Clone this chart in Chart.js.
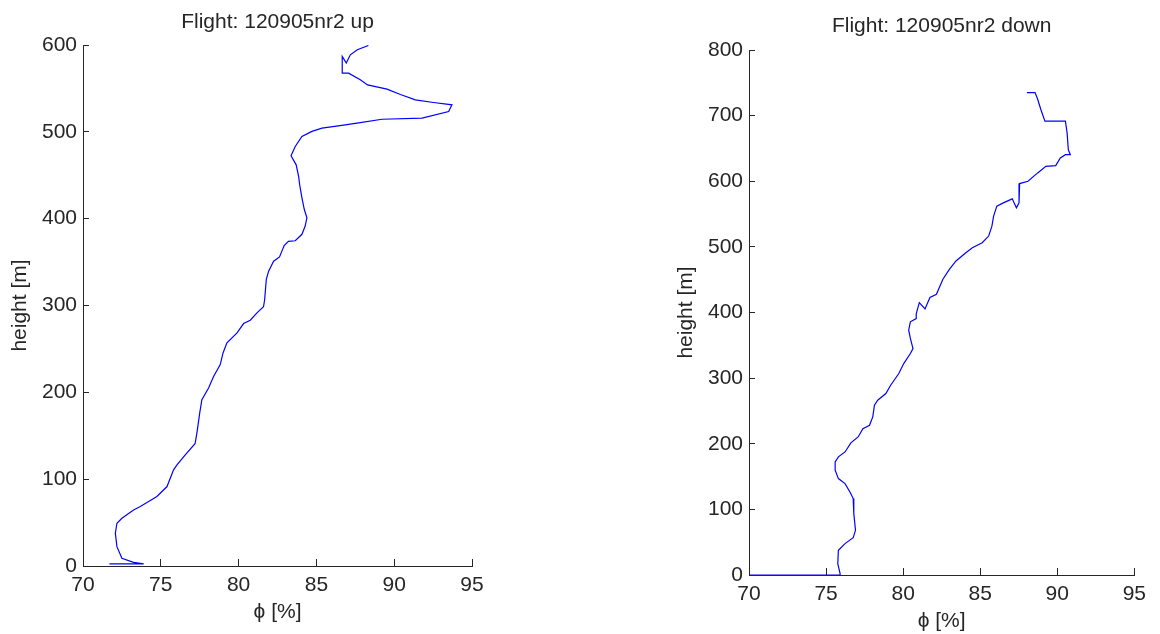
<!DOCTYPE html>
<html>
<head>
<meta charset="utf-8">
<title>Flight 120905nr2</title>
<script src="https://cdn.jsdelivr.net/npm/chart.js@4.4.1/dist/chart.umd.min.js"></script>
<style>
  html, body { margin: 0; padding: 0; background: #fff; overflow: hidden; }
  .box { position: absolute; top: 0; height: 634px; }
  #upBox { left: 0; width: 520px; }
  #downBox { left: 660px; width: 500px; }
</style>
</head>
<body>
<div class="box" id="upBox"><canvas id="upChart"></canvas></div>
<div class="box" id="downBox"><canvas id="downChart"></canvas></div>
<script>
// Ascent profile (relative humidity phi [%] vs height [m])
const upPhi = [71.7, 73.9, 73.25, 72.5, 72.18, 72.08, 72.18, 72.5, 73.25, 73.68,
  74.22, 74.75, 75.4, 75.82, 76.04, 76.57, 77.2, 77.32, 77.5, 77.64,
  78.07, 78.4, 78.82, 79.0, 79.25, 79.9, 80.32, 80.75, 81.18, 81.6,
  81.67, 81.78, 81.93, 82.25, 82.63, 82.93, 83.2, 83.64, 84.07, 84.28,
  84.39, 84.22, 84.07, 83.92, 83.86, 83.7, 83.37, 83.64, 84.07, 84.71,
  85.36, 86.75, 87.82, 89.21, 91.79, 93.5, 93.71, 92.53, 91.36, 90.4,
  89.54, 88.29, 87.82, 87.07, 86.66, 86.66, 86.92, 87.18, 87.63, 88.34];
const upHeight = [2.5, 2.5, 4.2, 8.8, 22.3, 37.7, 49.2, 55, 64.6, 68.5,
  74.2, 80, 91.5, 110.8, 116.5, 128, 140.8, 153, 176, 191.5,
  205, 218.5, 232, 245.4, 257, 268.5, 279.2, 283, 291.5, 298.5,
  306, 330, 339.6, 351, 356, 369, 373.8, 374.6, 382, 391.5,
  401, 410.8, 424, 439.6, 448.5, 462, 472.4, 483.1, 494.6, 500.5,
  504.2, 507.7, 510.5, 514.5, 515.7, 523.4, 531.1, 533.8, 536.9, 543,
  549.2, 554, 559.9, 567.6, 567.6, 586.8, 579.2, 588.7, 594.5, 599.4];

// Descent profile
const downPhi = [88.03, 88.56, 88.73, 88.94, 89.2, 90.53, 90.64, 90.72, 90.85, 90.53,
  90.2, 89.9, 89.26, 88.73, 88.1, 87.56, 87.52, 87.35, 87.25, 87.08,
  86.5, 86.08, 85.87, 85.76, 85.55, 85.13, 84.49, 84.07, 83.43, 83.0,
  82.58, 82.16, 81.74, 81.42, 81.05, 80.85, 80.85, 80.47, 80.36, 80.47,
  80.64, 80.47, 80.04, 79.72, 79.19, 78.88, 78.35, 78.14, 78.03, 77.82,
  77.39, 77.08, 76.61, 76.23, 75.8, 75.59, 75.59, 75.8, 76.23, 76.55,
  76.76, 76.8, 76.91, 76.76, 76.23, 75.8, 75.76, 75.91, 75.91, 70];
const downHeight = [735.2, 735.2, 725, 709, 691.6, 691.6, 673.4, 648, 640.5, 640.5,
  635.4, 623.8, 622.8, 612.7, 600, 596.5, 567, 559.5, 564.6, 573.2,
  567, 562, 546.8, 531.6, 516.5, 506.3, 498.7, 491, 478.5, 465.8,
  450.6, 427.8, 422.8, 405.5, 415, 398, 390.8, 385.8, 373, 360.4,
  345, 337.5, 322.2, 307, 289.2, 276.5, 266.3, 258.7, 241, 228.2,
  223.1, 210.4, 201.3, 187.5, 180, 172.3, 159.6, 146.9, 139.3, 126.6,
  116.4, 93.5, 68.1, 56.9, 47.8, 37.6, 17.3, 2, 0, 0];

const phiTicks = { min: 70, max: 95, step: 5 };
const xLabel = 'ϕ [%]';
const yLabel = 'height [m]';

Chart.defaults.font.family = '"Liberation Sans", Arial, sans-serif';
const ink = '#262626';

function makeProfile(id, phi, height, opt) {
    const points = phi.map((p, i) => ({ x: p, y: height[i] }));
    const font = { size: 21, weight: 'normal' };
    return new Chart(document.getElementById(id), {
        type: 'scatter',
        data: {
            datasets: [{
                data: points,
                showLine: true,
                borderColor: '#0000ff',
                borderWidth: 1.2,
                pointRadius: 0,
                tension: 0,
                fill: false
            }]
        },
        options: {
            responsive: true,
            maintainAspectRatio: false,
            animation: false,
            layout: { padding: { left: 0, right: opt.padRight, top: 0, bottom: 0 } },
            plugins: {
                legend: { display: false },
                tooltip: { enabled: false },
                title: {
                    display: true,
                    text: opt.title,
                    fullSize: false,
                    color: ink,
                    font: font,
                    padding: { top: opt.titleTop, bottom: opt.titleBottom }
                }
            },
            scales: {
                x: {
                    type: 'linear',
                    min: phiTicks.min,
                    max: phiTicks.max,
                    ticks: { stepSize: phiTicks.step, padding: 14, color: ink, font: font, maxRotation: 0 },
                    grid: { drawOnChartArea: false, tickLength: -7, color: ink },
                    border: { color: ink, width: 1 },
                    title: { display: true, text: xLabel, color: ink, font: font, padding: { top: 0, bottom: opt.xTitlePad } },
                    afterFit: s => { s.height = opt.xHeight; }
                },
                y: {
                    type: 'linear',
                    min: 0,
                    max: opt.yMax,
                    ticks: { stepSize: 100, padding: 12, color: ink, font: font },
                    grid: { drawOnChartArea: false, tickLength: -6, color: ink },
                    border: { color: ink, width: 1 },
                    title: { display: true, text: yLabel, color: ink, font: font, padding: { top: opt.yTitlePad, bottom: 0 } },
                    afterFit: s => { s.width = opt.yWidth; }
                }
            }
        }
    });
}

makeProfile('upChart', upPhi, upHeight, {
    title: 'Flight: 120905nr2 up', yMax: 600,
    padRight: 48, yWidth: 83, xHeight: 68,
    titleTop: 10, titleBottom: 9.8, xTitlePad: 9.4, yTitlePad: 7.4
});
makeProfile('downChart', downPhi, downHeight, {
    title: 'Flight: 120905nr2 down', yMax: 800,
    padRight: 18, yWidth: 89, xHeight: 59,
    titleTop: 14, titleBottom: 10.8, xTitlePad: 0, yTitlePad: 13.4
});
</script>
</body>
</html>
